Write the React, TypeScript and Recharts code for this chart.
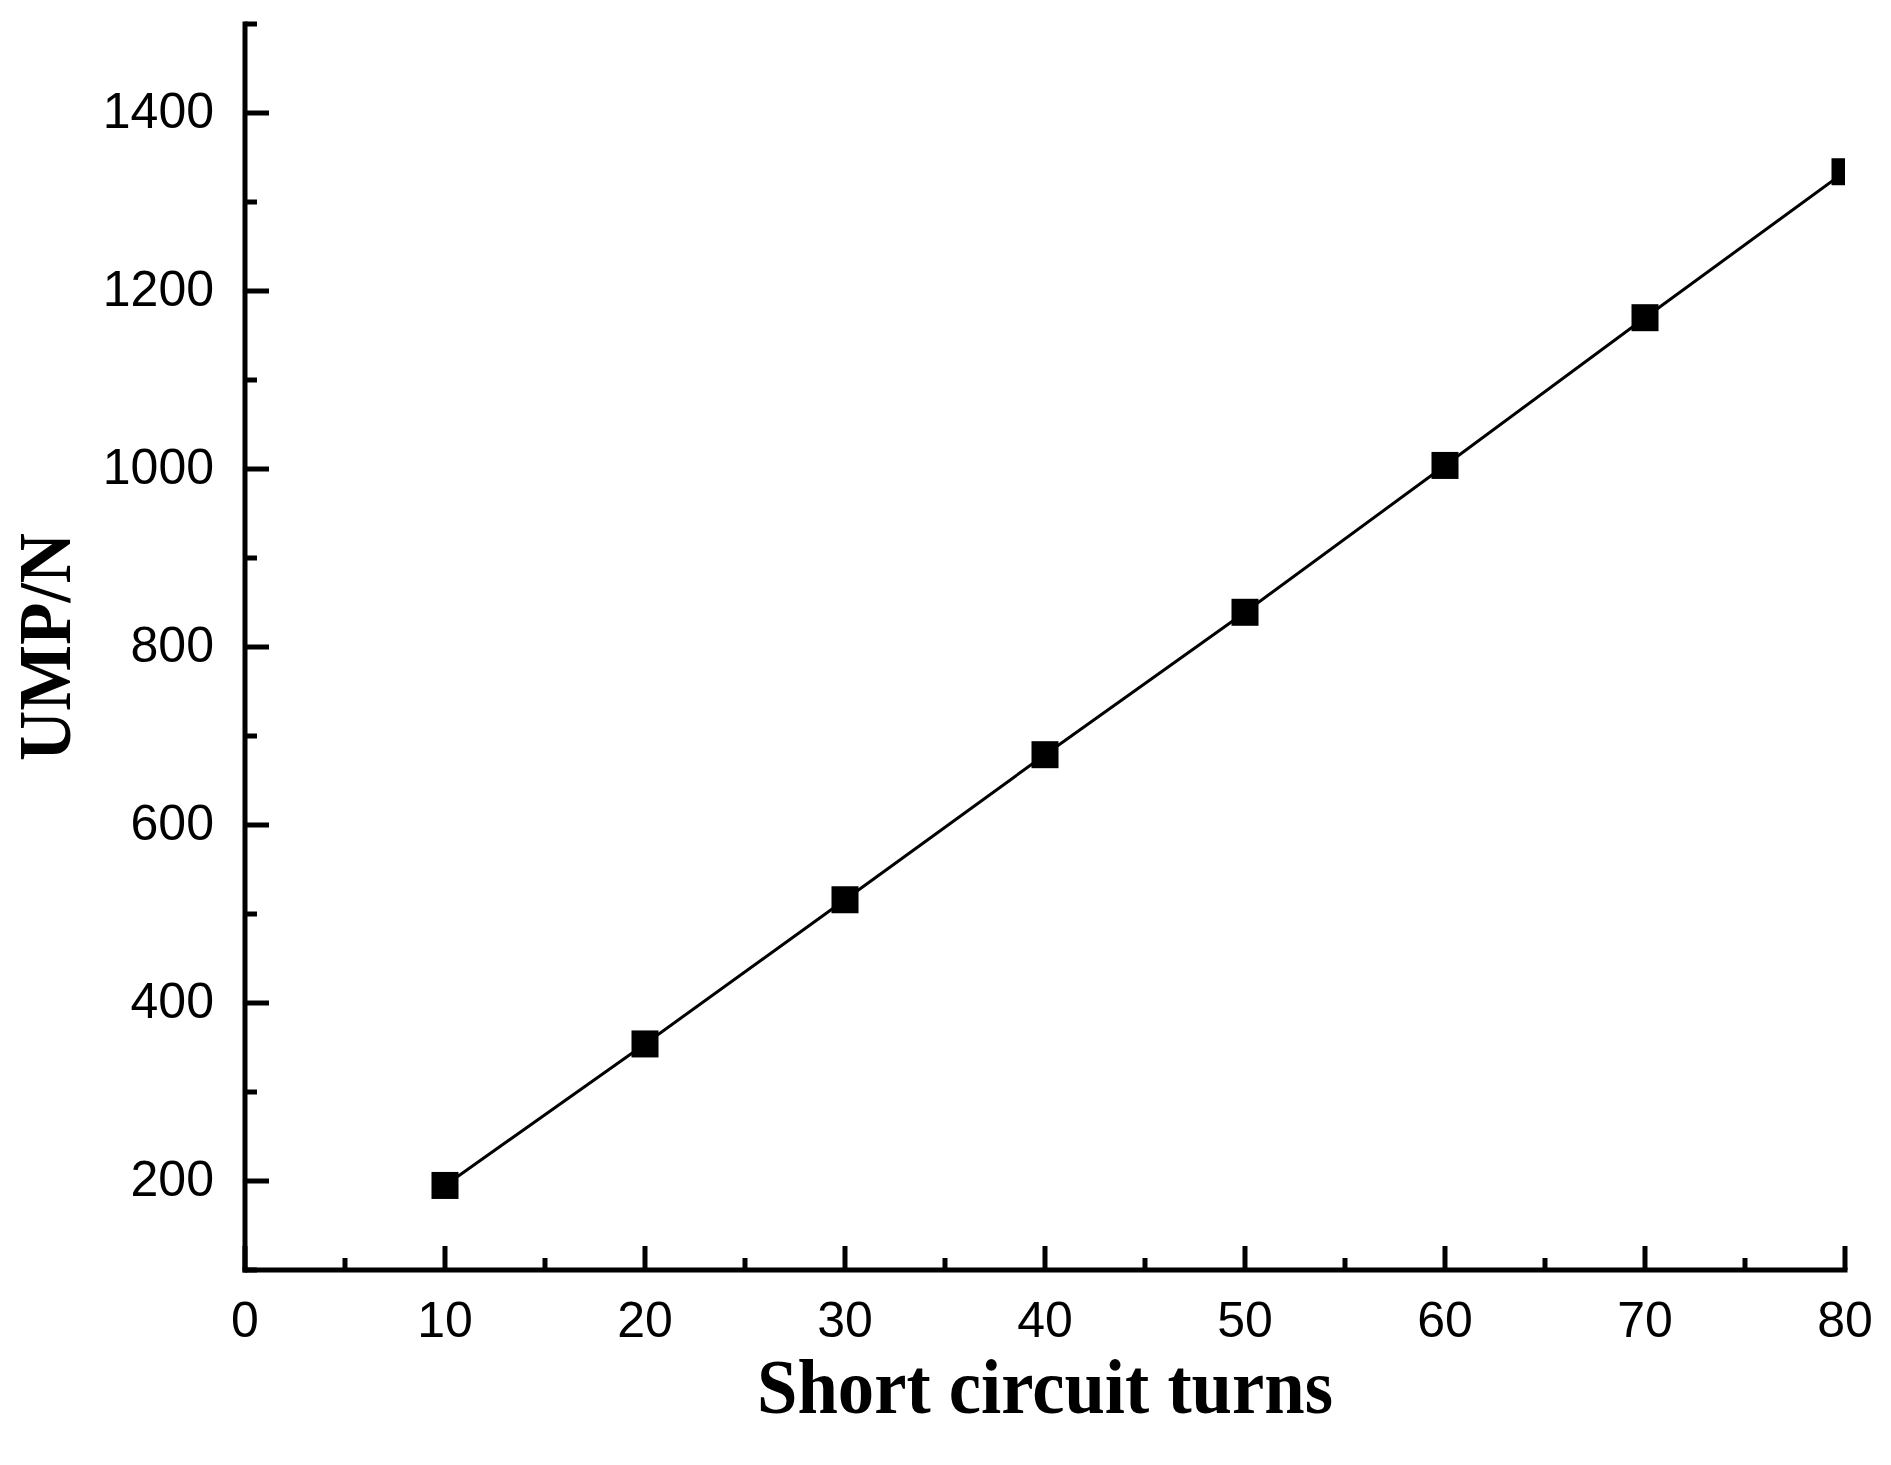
import React from "react";
import { LineChart, Line, XAxis, YAxis, Label } from "recharts";

// short circuit turns vs unbalanced magnetic pull
const turns = [10, 20, 30, 40, 50, 60, 70, 80];
const umpValues = [195, 354, 516, 679, 839, 1004, 1170, 1334];

const xTicks = [0, 5, 10, 15, 20, 25, 30, 35, 40, 45, 50, 55, 60, 65, 70, 75, 80];
const yTicks = [100, 200, 300, 400, 500, 600, 700, 800, 900, 1000, 1100, 1200, 1300, 1400, 1500];

const data = turns.map((t, i) => ({ turns: t, ump: umpValues[i] }));

const TICK_FONT = "'Liberation Sans', Arial, sans-serif";
const TITLE_FONT = "'Liberation Serif', 'Times New Roman', serif";

function XTick(props: any) {
  const { x, y, payload } = props;
  const major = payload.value % 10 === 0;
  return (
    <g>
      <line x1={x} y1={y} x2={x} y2={y - (major ? 24 : 12)} stroke="#000" strokeWidth={5} />
      {major && (
        <text x={x} y={y + 67} textAnchor="middle" fontFamily={TICK_FONT} fontSize={50} fill="#000">
          {payload.value}
        </text>
      )}
    </g>
  );
}

function YTick(props: any) {
  const { x, y, payload } = props;
  const major = payload.value % 200 === 0;
  return (
    <g>
      <line x1={x} y1={y} x2={x + (major ? 24 : 12)} y2={y} stroke="#000" strokeWidth={5} />
      {major && (
        <text x={x - 31} y={y + 15} textAnchor="end" fontFamily={TICK_FONT} fontSize={50} fill="#000">
          {payload.value}
        </text>
      )}
    </g>
  );
}

function SquareDot(props: any) {
  const { cx, cy, index } = props;
  if (cx == null || cy == null) return null;
  const s = 27;
  return <rect key={index} x={cx - s / 2} y={cy - s / 2} width={s} height={s} fill="#000" />;
}

export default function App() {
  return (
    <div style={{ position: "absolute", left: 0, top: 0, width: 1891, height: 1465, background: "#fff" }}>
      <LineChart width={1891} height={1465} data={data} margin={{ top: 24, right: 46, left: 0, bottom: 0 }}>
        <XAxis
          dataKey="turns"
          type="number"
          domain={[0, 80]}
          ticks={xTicks}
          allowDataOverflow
          height={195}
          tickSize={0}
          tickMargin={0}
          tick={<XTick />}
          axisLine={{ stroke: "#000", strokeWidth: 5, strokeLinecap: "square" }}
          tickLine={false}
          interval={0}
        >
          <Label
            content={(p: any) => {
              const vb = p.viewBox || { x: 245, y: 1270, width: 1600 };
              return (
                <text
                  x={vb.x + vb.width / 2}
                  y={vb.y + 143}
                  textAnchor="middle"
                  fontFamily={TITLE_FONT}
                  fontWeight="bold"
                  fontSize={78}
                  textLength={576}
                  lengthAdjust="spacingAndGlyphs"
                  fill="#000"
                >
                  Short circuit turns
                </text>
              );
            }}
          />
        </XAxis>
        <YAxis
          dataKey="ump"
          type="number"
          domain={[100, 1500]}
          ticks={yTicks}
          width={245}
          tickSize={0}
          tickMargin={0}
          tick={<YTick />}
          axisLine={{ stroke: "#000", strokeWidth: 5, strokeLinecap: "square" }}
          tickLine={false}
          interval={0}
        >
          <Label
            content={(p: any) => {
              const vb = p.viewBox || { x: 0, y: 24, width: 245, height: 1246 };
              const cx = 70;
              const cy = vb.y + vb.height / 2;
              return (
                <text
                  x={cx}
                  y={cy}
                  transform={`rotate(-90 ${cx} ${cy})`}
                  textAnchor="middle"
                  fontFamily={TITLE_FONT}
                  fontWeight="bold"
                  fontSize={74}
                  textLength={228}
                  lengthAdjust="spacingAndGlyphs"
                  fill="#000"
                >
                  UMP/N
                </text>
              );
            }}
          />
        </YAxis>
        <Line
          dataKey="ump"
          stroke="#000"
          strokeWidth={3}
          dot={<SquareDot />}
          activeDot={false}
          isAnimationActive={false}
        />
      </LineChart>
    </div>
  );
}
